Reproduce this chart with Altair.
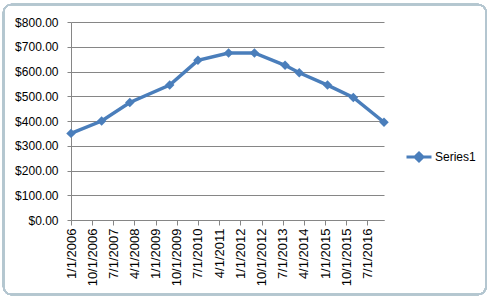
import altair as alt
import pandas as pd
from datetime import datetime

# Data
dates = ["1/1/2006", "2/1/2007", "2/1/2008", "7/1/2009", "7/1/2010", "8/1/2011",
         "7/1/2012", "8/1/2013", "2/1/2014", "2/1/2015", "1/1/2016", "2/1/2017"]
values = [350, 400, 475, 545, 645, 675, 675, 625, 595, 545, 495, 395]
series_name = "Series1"
x_tick_labels = ["1/1/2006", "10/1/2006", "7/1/2007", "4/1/2008", "1/1/2009",
                 "10/1/2009", "7/1/2010", "4/1/2011", "1/1/2012", "10/1/2012",
                 "7/1/2013", "4/1/2014", "1/1/2015", "10/1/2015", "7/1/2016"]
y_ticks = [0, 100, 200, 300, 400, 500, 600, 700, 800]

BLUE = "#4A7EBB"
GRID = "#868686"


def iso(s):
    return datetime.strptime(s, "%m/%d/%Y").strftime("%Y-%m-%d")


def dt(s):
    m, d, y = (int(p) for p in s.split("/"))
    return alt.DateTime(year=y, month=m, date=d, utc=True)


df = pd.DataFrame({
    "date": [iso(s) for s in dates],
    "value": values,
    "series": series_name,
})

W, H = 313, 198

x_enc = alt.X(
    "date:T",
    scale=alt.Scale(type="utc", domain=[dt(dates[0]), dt(dates[-1])]),
    axis=alt.Axis(
        values=[dt(s) for s in x_tick_labels],
        labelExpr="utcFormat(datum.value, '%-m/%-d/%Y')",
        labelAngle=270,
        labelAlign="right",
        labelBaseline="middle",
        labelPadding=3,
        tickSize=5,
        grid=False,
        title=None,
        labelFontSize=13,
        labelOverlap=False,
        labelFlush=False,
    ),
)
y_enc = alt.Y(
    "value:Q",
    scale=alt.Scale(domain=[0, 800], nice=False),
    axis=alt.Axis(
        values=y_ticks,
        format="$.2f",
        tickSize=4,
        labelPadding=9,
        grid=True,
        title=None,
        labelFontSize=12,
        labelOverlap=False,
    ),
)

base = alt.Chart(df).encode(x=x_enc, y=y_enc)

line = base.mark_line(strokeWidth=3.5).encode(
    color=alt.Color(
        "series:N",
        scale=alt.Scale(domain=[series_name], range=[BLUE]),
        legend=alt.Legend(
            title=None,
            orient="none",
            legendX=334,
            legendY=121,
            symbolType="M-1,0H1M0,-0.32L0.32,0L0,0.32L-0.32,0Z",
            symbolSize=625,
            symbolStrokeWidth=3,
            symbolStrokeColor=BLUE,
            symbolFillColor=BLUE,
            labelFontSize=12,
            labelOffset=2,
            padding=0,
        ),
    ),
)

points = base.mark_point(filled=True, shape="diamond", size=90, opacity=1).encode(
    color=alt.value(BLUE),
)

frame = alt.Chart(df).mark_rect(
    fillOpacity=0, stroke="#b4c6d0", strokeWidth=1.5, cornerRadius=8
).encode(
    x=alt.value(-67.5), x2=alt.value(415), y=alt.value(-17.5), y2=alt.value(272.5)
)

chart = (
    alt.layer(frame, line, points)
    .properties(
        width=W,
        height=H,
        autosize=alt.AutoSizeParams(type="none"),
        padding={"left": 71, "top": 22, "right": 109, "bottom": 82},
        background="white",
    )
    .configure_view(stroke=None)
    .configure_axis(
        domainColor=GRID,
        tickColor=GRID,
        gridColor=GRID,
        gridWidth=1,
        domainWidth=1,
        labelColor="#000000",
        labelFont="Liberation Sans",
    )
    .configure_legend(labelFont="Liberation Sans", labelColor="#000000")
)

chart.save("out.html", embed_options={"renderer": "svg", "actions": False})
